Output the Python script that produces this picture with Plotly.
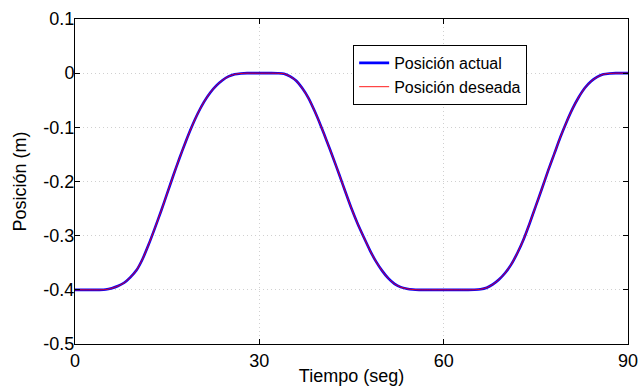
import plotly.graph_objects as go

# Time (s)
tiempo = [0, 2, 4, 5, 6, 7, 8, 9, 10, 11, 12, 13, 14, 15, 16, 17, 18, 19, 20,
          21, 22, 23, 24, 25, 26, 27, 28, 30, 32, 33, 34, 35, 36, 37, 38, 39,
          40, 41, 42, 43, 44, 45, 46, 47, 48, 49, 50, 51, 52, 53, 54, 55, 56,
          58, 60, 62, 64, 65, 66, 67, 68, 69, 70, 71, 72, 73, 74, 75, 76, 77,
          78, 79, 80, 81, 82, 83, 84, 85, 86, 87, 88, 90]

# Desired position (m)
pos_deseada = [-0.400, -0.400, -0.400, -0.3995, -0.397, -0.393, -0.387, -0.377,
               -0.364, -0.343, -0.316, -0.286, -0.255, -0.222, -0.189, -0.157,
               -0.127, -0.099, -0.074, -0.053, -0.036, -0.023, -0.013, -0.006,
               -0.002, -0.0005, 0.000, 0.000, 0.000, -0.0002, -0.001, -0.006,
               -0.014, -0.028, -0.046, -0.070, -0.097, -0.126, -0.156, -0.187,
               -0.219, -0.250, -0.278, -0.303, -0.327, -0.348, -0.365, -0.379,
               -0.389, -0.395, -0.398, -0.3995, -0.400, -0.400, -0.400, -0.400,
               -0.400, -0.3998, -0.399, -0.396, -0.390, -0.381, -0.369, -0.353,
               -0.332, -0.307, -0.277, -0.245, -0.213, -0.180, -0.149, -0.118,
               -0.090, -0.065, -0.044, -0.027, -0.015, -0.007, -0.002, -0.0005,
               0.000, 0.000]

# Actual position (m) -- visually identical to the desired one
pos_actual = list(pos_deseada)

x_ticks = [0, 30, 60, 90]
y_ticks = [0.1, 0, -0.1, -0.2, -0.3, -0.4, -0.5]
y_ticklabels = ["0.1", "0", "-0.1", "-0.2", "-0.3", "-0.4", "-0.5"]

FONT = "Liberation Sans, Arial, Helvetica, sans-serif"

fig = go.Figure()
fig.add_trace(go.Scatter(x=tiempo, y=pos_actual, mode="lines",
                         name="Posición actual",
                         line=dict(color="#0000FF", width=2.6, shape="spline", smoothing=0.6)))
fig.add_trace(go.Scatter(x=tiempo, y=pos_deseada, mode="lines",
                         name="Posición deseada",
                         line=dict(color="#FF0000", width=0.9, shape="spline", smoothing=0.6)))

axis_common = dict(showline=True, linecolor="black", linewidth=1, mirror="ticks",
                   ticks="inside", ticklen=5, tickcolor="black", automargin=False,
                   showgrid=True, gridcolor="#d0d0d0", griddash="1px,3px", gridwidth=1,
                   zeroline=False, tickfont=dict(family=FONT, size=18, color="black"))

fig.update_layout(
    width=639, height=386,
    margin=dict(l=75, r=11, t=19, b=42),
    paper_bgcolor="white", plot_bgcolor="white",
    font=dict(family=FONT, size=18, color="black"),
    xaxis=dict(range=[0, 90], tickvals=x_ticks, ticktext=[str(v) for v in x_ticks],
               title=dict(text="Tiempo (seg)", font=dict(family=FONT, size=18), standoff=0),
               **axis_common),
    yaxis=dict(range=[-0.5, 0.1], tickvals=y_ticks, ticktext=y_ticklabels,
               ticklabelstandoff=-4,
               title=dict(text="Posición (m)", font=dict(family=FONT, size=18), standoff=12),
               **axis_common),
    legend=dict(x=0.503, y=0.92, xanchor="left", yanchor="top",
                bgcolor="white", bordercolor="black", borderwidth=1,
                font=dict(family=FONT, size=16, color="black"),
                tracegroupgap=0, itemwidth=30),
    showlegend=True,
)

fig.write_html("out.html", config={"displayModeBar": False},
               post_script="document.body.style.margin='0';document.body.style.overflow='hidden';")
